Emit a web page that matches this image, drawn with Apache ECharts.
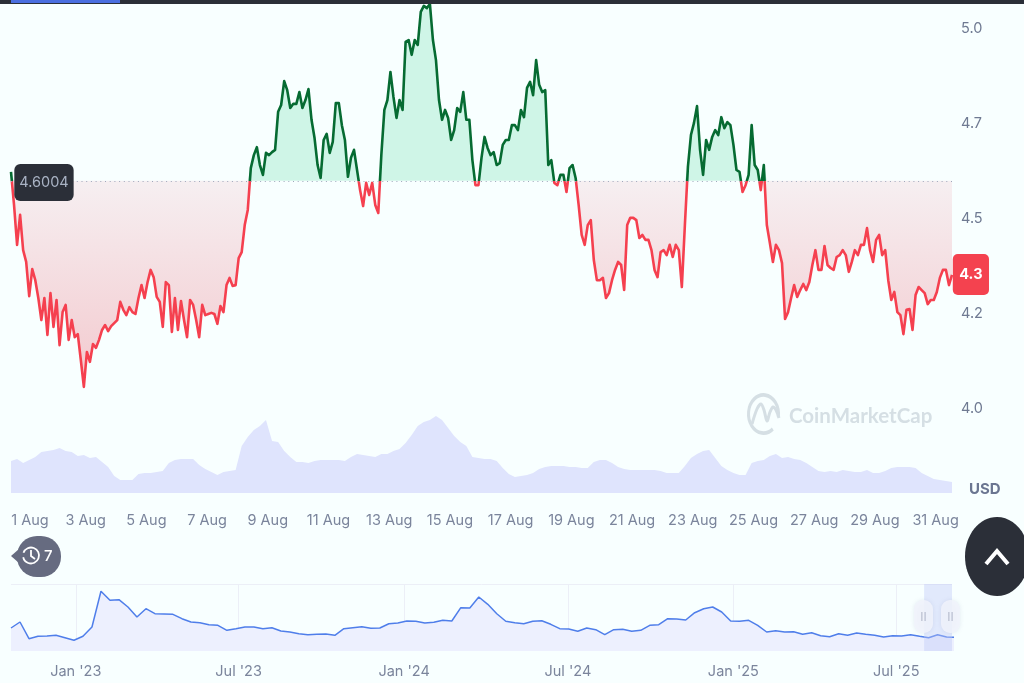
<!DOCTYPE html>
<html>
<head>
<meta charset="utf-8">
<title>Price chart</title>
<style>
html,body{margin:0;padding:0;background:#f8ffff;}
#chart{width:1024px;height:683px;}
</style>
<script src="https://cdn.jsdelivr.net/npm/echarts@6/dist/echarts.min.js"></script>
</head>
<body>
<div id="chart"></div>
<script>
// Price in USD, one sample every 0.1 day over the month
const priceValues = [
4.624,4.537,4.432,4.511,4.418,4.387,4.297,4.368,4.339,4.292,4.234,4.292,4.195,4.305,4.216,4.287,4.168,4.255,4.274,4.182,
4.234,4.189,4.197,4.129,4.058,4.150,4.124,4.171,4.161,4.182,4.208,4.221,4.205,4.218,4.226,4.234,4.282,4.261,4.247,4.268,
4.255,4.250,4.292,4.326,4.292,4.334,4.366,4.347,4.295,4.282,4.216,4.334,4.326,4.203,4.292,4.208,4.284,4.234,4.189,4.287,
4.274,4.234,4.189,4.274,4.247,4.250,4.253,4.250,4.224,4.271,4.255,4.326,4.345,4.324,4.326,4.397,4.413,4.484,4.524,4.634,
4.668,4.689,4.642,4.616,4.674,4.668,4.676,4.682,4.782,4.800,4.863,4.839,4.792,4.803,4.803,4.834,4.792,4.813,4.842,4.761,
4.713,4.642,4.608,4.708,4.724,4.674,4.703,4.805,4.805,4.747,4.708,4.611,4.661,4.682,4.629,4.576,4.534,4.595,4.563,4.595,
4.537,4.516,4.668,4.787,4.813,4.887,4.821,4.766,4.813,4.787,4.966,4.971,4.932,4.971,4.958,5.045,5.061,5.055,5.066,4.971,
4.918,4.813,4.761,4.787,4.766,4.708,4.734,4.792,4.782,4.834,4.761,4.761,4.655,4.589,4.589,4.661,4.716,4.687,4.668,4.676,
4.642,4.647,4.695,4.708,4.708,4.747,4.747,4.734,4.787,4.768,4.845,4.861,4.826,4.918,4.853,4.834,4.839,4.642,4.655,4.595,
4.589,4.616,4.616,4.571,4.634,4.642,4.608,4.537,4.458,4.432,4.484,4.497,4.392,4.339,4.339,4.345,4.292,4.305,4.339,4.366,
4.387,4.379,4.313,4.484,4.503,4.503,4.497,4.450,4.458,4.445,4.445,4.418,4.366,4.347,4.413,4.418,4.405,4.432,4.400,4.432,
4.418,4.321,4.484,4.637,4.721,4.753,4.797,4.682,4.616,4.708,4.682,4.716,4.734,4.721,4.768,4.739,4.755,4.747,4.695,4.629,
4.624,4.571,4.589,4.616,4.747,4.642,4.629,4.576,4.642,4.484,4.437,4.387,4.432,4.418,4.384,4.237,4.255,4.292,4.326,4.295,
4.313,4.329,4.313,4.334,4.379,4.418,4.366,4.366,4.429,4.379,4.371,4.366,4.400,4.405,4.418,4.405,4.361,4.387,4.418,4.405,
4.432,4.432,4.476,4.418,4.387,4.445,4.458,4.405,4.418,4.339,4.287,4.308,4.255,4.247,4.197,4.261,4.263,4.208,4.300,4.321,
4.313,4.305,4.276,4.287,4.287,4.308,4.345,4.366,4.366,4.326,4.353
];
const openingPrice = 4.6004;

// Traded volume, relative level, one sample every 0.2 day
const volumeLevels = [
32,34,30,33,36,41,42,43,45,42,41,37,38,35,36,31,26,17,13,13,
13,19,20,20,21,22,30,33,34,34,34,28,24,21,18,21,22,23,47,56,
63,67,73,52,51,42,36,31,31,30,32,33,33,33,33,32,36,39,38,37,
36,39,39,42,44,50,58,67,71,73,77,73,65,57,51,47,36,35,34,34,
32,25,19,16,17,18,20,24,26,27,27,27,26,26,25,25,31,33,33,30,
26,24,23,23,23,23,23,22,20,20,20,27,35,39,42,43,35,27,23,20,
18,18,30,32,33,37,39,35,36,34,33,30,26,22,21,22,21,23,22,21,
21,23,20,20,22,25,26,26,26,25,20,17,14,13,12,11
];

// Long range overview, relative level, one sample every 10 days
const historyLevels = [
23,29,12.3,14.7,15,15.7,13.3,10.7,14.7,24,59.7,50.7,51.3,44,34,42.3,37.3,37,36.7,32.3,
29,28.3,26.3,25.7,20.7,22.3,24,24,22.3,23.3,20,19,17.3,16.3,16.7,17,15.7,22.3,23.3,24.3,
22.7,23,27.3,28,30,29.7,28,28.7,30.7,30,43.3,43,54,46.7,37.3,29.7,
28.3,27.3,29.7,30.3,26.7,22.3,22,19.7,23,21.3,16.3,21.3,21.7,19.7,20.7,25.7,26.3,32.3,32,31,
38.3,42.3,44,39,30,29.7,30.7,25.7,19,20.3,19,19.3,16.7,18.3,15.3,14.3,17.3,15.7,18,16.7,
15.7,14,15.3,15,16.3,14.7,13.3,16.3,14,13.7
];

// Axis ticks and their labels
const priceTicks = [4, 4.25, 4.5, 4.75, 5];
const priceTickLabels = ['4.0', '4.2', '4.5', '4.7', '5.0'];
const dayTicks = [1,3,5,7,9,11,13,15,17,19,21,23,25,27,29,31];
const dayMonthLabel = 'Aug';
const historyTickDates = [[2023,0],[2023,6],[2024,0],[2024,6],[2025,0],[2025,6]];
const historyTickLabels = ["Jan '23","Jul '23","Jan '24","Jul '24","Jan '25","Jul '25"];

// Sample index ranges in which the fall below the open gets a shaded fill
const lossFillSpans = [[0,79],[186,223],[248,310]];

const DAY = 86400000;
const monthStart = Date.UTC(2025,7,1);
const priceStart = monthStart - 0.46*DAY;
const priceEnd = priceStart + 31*DAY;
const priceStep = 0.1*DAY;
const volumeStep = 0.2*DAY;
const historyStart = Date.UTC(2022,9,21);
const historyEnd = Date.UTC(2025,8,1);
const historyStep = 10*DAY;
const windowStart = Date.UTC(2025,7,1);

const pricePoints = priceValues.map((v,i)=>[priceStart+i*priceStep, v]);
const gainFill = priceValues.map((v,i)=>[priceStart+i*priceStep, Math.max(v, openingPrice)]);
const lossFill = priceValues.map((v,i)=>{
  const t = priceStart+i*priceStep;
  const inside = lossFillSpans.some(s=>i>=s[0] && i<=s[1]);
  return [t, inside ? Math.min(v, openingPrice) : null];
});
const volumePoints = volumeLevels.map((v,i)=>[priceStart+i*volumeStep, v]);
const historyPoints = historyLevels.map((v,i)=>[historyStart+i*historyStep, v]);

const dayTickTimes = dayTicks.map(d=>Date.UTC(2025,7,d));
const historyTickTimes = historyTickDates.map(d=>Date.UTC(d[0],d[1],1));
const lastPoint = pricePoints[pricePoints.length-1];
const truncated = v => (Math.floor(v*10+1e-9)/10).toFixed(1);

// The line turns from green to red where it crosses the open
const highest = Math.max(...priceValues);
const lowest = Math.min(...priceValues);
const crossing = (highest - openingPrice) / (highest - lowest);
const priceLineColor = new echarts.graphic.LinearGradient(0,0,0,1,[
  {offset:0,color:'#066b32'},{offset:crossing,color:'#066b32'},
  {offset:crossing,color:'#f5404f'},{offset:1,color:'#f5404f'}
]);

const FONT = 'Inter, "Noto Sans", sans-serif';
const TEXT = '#7b859c';

const chart = echarts.init(document.getElementById('chart'), null, {renderer:'canvas'});

chart.setOption({
  animation:false,
  backgroundColor:'#f8ffff',
  textStyle:{fontFamily:FONT},
  grid:[
    {left:11, width:941, top:2.4, height:406.6},
    {left:11, width:941, top:413, height:80},
    {left:11, width:941, top:584, height:67}
  ],
  xAxis:[
    {type:'value', gridIndex:0, min:priceStart, max:priceEnd, show:false},
    {type:'value', gridIndex:1, min:priceStart, max:priceEnd,
      axisLine:{show:false}, axisTick:{show:false}, splitLine:{show:false},
      axisLabel:{
        customValues:dayTickTimes, margin:20, fontSize:14.5, color:TEXT, fontFamily:FONT,
        hideOverlap:false,
        formatter:function(v){
          const d = new Date(v).getUTCDate();
          return d===1 ? '{first|1 '+dayMonthLabel+'}' : d+' '+dayMonthLabel;
        },
        rich:{first:{fontSize:14.5,color:TEXT,fontFamily:FONT,padding:[0,0,0,10]}}
      }},
    {type:'value', gridIndex:2, min:historyStart, max:historyEnd,
      axisLine:{show:false},
      axisTick:{show:false, customValues:historyTickTimes},
      splitLine:{show:true, lineStyle:{color:'#eceff7', width:1}},
      axisLabel:{
        customValues:historyTickTimes, margin:13, fontSize:14.5, color:TEXT, fontFamily:FONT,
        hideOverlap:false,
        formatter:function(v){ return historyTickLabels[historyTickTimes.indexOf(v)] || ''; }
      }}
  ],
  yAxis:[
    {type:'value', gridIndex:0, position:'right', min:4, max:5.07,
      axisLine:{show:false}, axisTick:{show:false}, splitLine:{show:false},
      axisLabel:{
        customValues:priceTicks, margin:9, fontSize:14.5, color:'#6f7a92', fontFamily:FONT,
        padding:[2,0,0,0],
        formatter:function(v){ return priceTickLabels[priceTicks.indexOf(v)] || ''; }
      }},
    {type:'value', gridIndex:1, min:0, max:80, show:false},
    {type:'value', gridIndex:2, min:0, max:67,
      axisLine:{show:false}, axisLabel:{show:false},
      axisTick:{show:false, customValues:[67]},
      splitLine:{show:true, lineStyle:{color:'#eceff7', width:1}}}
  ],
  series:[
    {name:'gain fill', type:'line', xAxisIndex:0, yAxisIndex:0, data:gainFill, showSymbol:false, silent:true,
      lineStyle:{width:0}, itemStyle:{color:'#cff5e7'},
      areaStyle:{origin:openingPrice, color:'#cff5e7', opacity:1}},
    {name:'loss fill', type:'line', xAxisIndex:0, yAxisIndex:0, data:lossFill, showSymbol:false, silent:true,
      connectNulls:false, lineStyle:{width:0}, itemStyle:{color:'#f6eef0'},
      areaStyle:{origin:openingPrice, opacity:1,
        color:new echarts.graphic.LinearGradient(0,0,0,1,[{offset:0,color:'#f6eff1'},{offset:1,color:'#f3c9ce'}])}},
    {name:'price', type:'line', xAxisIndex:0, yAxisIndex:0, data:pricePoints, showSymbol:false, smooth:false,
      lineStyle:{width:2.6, color:priceLineColor, join:'round'}, itemStyle:{color:'#f5404f'}, z:3,
      markLine:{
        silent:true, symbol:'none', animation:false,
        lineStyle:{color:'#9ea7bb', width:1.2, type:[1,3.7]},
        label:{show:false},
        data:[{yAxis:openingPrice}]
      },
      markPoint:{
        silent:true, animation:false, symbolSize:1, itemStyle:{color:'rgba(0,0,0,0)'},
        data:[
          {coord:[priceStart, openingPrice],
            label:{show:true, position:'right', distance:3, offset:[0,2], formatter:String(openingPrice),
              fontFamily:FONT, fontSize:14.5, color:'#a9b3c4', backgroundColor:'#2b2f38',
              padding:[11,5], borderRadius:6}},
          {coord:[lastPoint[0], lastPoint[1]],
            label:{show:true, position:'right', distance:0.5, formatter:truncated(lastPoint[1]),
              fontFamily:FONT, fontSize:14.5, fontWeight:'bold', color:'#ffffff', backgroundColor:'#f4424f',
              padding:[13,6.5], borderRadius:5}}
        ]
      }},
    {name:'volume', type:'line', xAxisIndex:1, yAxisIndex:1, data:volumePoints, showSymbol:false, silent:true,
      lineStyle:{width:0}, itemStyle:{color:'#dfe4fd'}, areaStyle:{color:'#dfe4fd', opacity:1}},
    {name:'history', type:'line', xAxisIndex:2, yAxisIndex:2, data:historyPoints, showSymbol:false, silent:true,
      lineStyle:{color:'#4f7eea', width:1.5}, itemStyle:{color:'#4f7eea'},
      areaStyle:{color:'#edf0fe', opacity:1},
      markArea:{silent:true, animation:false, z:5, itemStyle:{color:'rgba(190,200,248,0.4)'},
        data:[[{xAxis:windowStart},{xAxis:historyEnd}]]}}
  ],
  graphic:[
    // top strip
    {type:'rect', z:50, shape:{x:0,y:0,width:1024,height:4}, style:{fill:'#2b2f38'}},
    {type:'rect', z:51, shape:{x:11,y:0,width:109,height:3}, style:{fill:'#4b6fe0'}},
    // watermark
    {type:'arc', z:1, originX:763.5, originY:414, scaleY:1.27,
      shape:{cx:763.5,cy:414,r:15,startAngle:0.9,endAngle:6.45,clockwise:true},
      style:{fill:'none', stroke:'#d5dfe4', lineWidth:3}},
    {type:'polyline', z:1, shape:{points:[[752,424],[757,409],[761,404],[764,410],[767,421],[770,412],[773,407],[776,410],[779,418]], smooth:0.3},
      style:{fill:'none', stroke:'#d5dfe4', lineWidth:3}},
    {type:'text', z:1, x:789, y:416, style:{text:'CoinMarketCap', fill:'#d5dfe4', fontFamily:'Lato, sans-serif', fontSize:20.5, fontWeight:'bold', verticalAlign:'middle', align:'left'}},
    // currency
    {type:'text', z:10, x:969, y:489, style:{text:'USD', fill:'#6b7691', fontFamily:FONT, fontSize:15, fontWeight:'bold', verticalAlign:'middle'}},
    // history badge
    {type:'polygon', z:10, shape:{points:[[11,556],[19,549],[19,563]]}, style:{fill:'#666b80'}},
    {type:'rect', z:10, shape:{x:17,y:536,width:44,height:41,r:20}, style:{fill:'#666b80'}},
    {type:'arc', z:11, shape:{cx:31,cy:555.5,r:8,startAngle:3.5,endAngle:9.2,clockwise:true}, style:{fill:'none', stroke:'#ffffff', lineWidth:1.8}},
    {type:'polyline', z:11, shape:{points:[[31,550],[31,556],[35,559]]}, style:{fill:'none', stroke:'#ffffff', lineWidth:1.8}},
    {type:'text', z:11, x:44, y:556, style:{text:'7', fill:'#ffffff', fontFamily:FONT, fontSize:15, fontWeight:500, verticalAlign:'middle'}},
    // scroll button
    {type:'ellipse', z:10, shape:{cx:997,cy:556.5,rx:32,ry:39.5}, style:{fill:'#2b2f38'}},
    {type:'polyline', z:11, shape:{points:[[986,564],[997,551],[1008,564]]}, style:{fill:'none', stroke:'#ffffff', lineWidth:4}},
    // overview range handles
    {type:'rect', z:12, shape:{x:914,y:600,width:19,height:33,r:9}, style:{fill:'rgba(241,243,251,0.85)', shadowBlur:4, shadowColor:'rgba(120,130,170,0.18)'}},
    {type:'rect', z:12, shape:{x:941,y:600,width:19,height:33,r:9}, style:{fill:'rgba(241,243,251,0.85)', shadowBlur:4, shadowColor:'rgba(120,130,170,0.18)'}},
    {type:'text', z:13, x:923.5, y:617, style:{text:'II', fill:'#b6bccd', fontFamily:FONT, fontSize:12, align:'center', verticalAlign:'middle'}},
    {type:'text', z:13, x:950.5, y:617, style:{text:'II', fill:'#b6bccd', fontFamily:FONT, fontSize:12, align:'center', verticalAlign:'middle'}}
  ]
});
</script>
</body>
</html>
